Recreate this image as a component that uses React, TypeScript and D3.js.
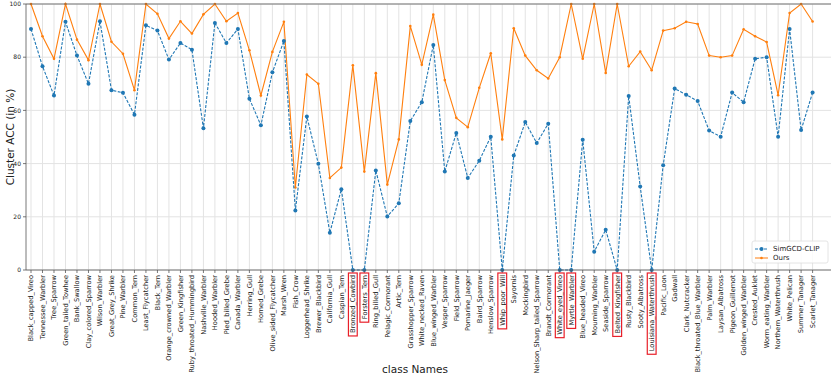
import React, { useEffect, useRef } from 'react';
import * as d3 from 'd3';

const classNames = [
  'Black_capped_Vireo', 'Tennessee_Warbler', 'Tree_Sparrow', 'Green_tailed_Towhee', 'Bank_Swallow',
  'Clay_colored_Sparrow', 'Wilson_Warbler', 'Great_Grey_Shrike', 'Pine_Warbler', 'Common_Tern',
  'Least_Flycatcher', 'Black_Tern', 'Orange_crowned_Warbler', 'Green_Kingfisher', 'Ruby_throated_Hummingbird',
  'Nashville_Warbler', 'Hooded_Warbler', 'Pied_billed_Grebe', 'Canada_Warbler', 'Herring_Gull',
  'Horned_Grebe', 'Olive_sided_Flycatcher', 'Marsh_Wren', 'Fish_Crow', 'Loggerhead_Shrike',
  'Brewer_Blackbird', 'California_Gull', 'Caspian_Tern', 'Bronzed_Cowbird', 'Forsters_Tern',
  'Ring_billed_Gull', 'Pelagic_Cormorant', 'Artic_Tern', 'Grasshopper_Sparrow', 'White_necked_Raven',
  'Blue_winged_Warbler', 'Vesper_Sparrow', 'Field_Sparrow', 'Pomarine_Jaeger', 'Baird_Sparrow',
  'Henslow_Sparrow', 'Whip_poor_Will', 'Sayornis', 'Mockingbird', 'Nelson_Sharp_tailed_Sparrow',
  'Brandt_Cormorant', 'White_eyed_Vireo', 'Myrtle_Warbler', 'Blue_headed_Vireo', 'Mourning_Warbler',
  'Seaside_Sparrow', 'Belted_Kingfisher', 'Rusty_Blackbird', 'Sooty_Albatross', 'Louisiana_Waterthrush',
  'Pacific_Loon', 'Gadwall', 'Clark_Nutcracker', 'Black_throated_Blue_Warbler', 'Palm_Warbler',
  'Laysan_Albatross', 'Pigeon_Guillemot', 'Golden_winged_Warbler', 'Crested_Auklet', 'Worm_eating_Warbler',
  'Northern_Waterthrush', 'White_Pelican', 'Summer_Tanager', 'Scarlet_Tanager',
];

const simgcdClip = [
  90.6, 76.6, 65.6, 93.3, 80.6, 70, 93.5, 67.6, 66.6, 58.4,
  92, 90, 79.1, 85.3, 82.8, 53.3, 92.9, 85.3, 90.6, 64.4,
  54.4, 74.3, 86.1, 22.4, 57.7, 39.9, 14, 30.4, 0, 0,
  37.4, 20.1, 25.1, 56, 63.1, 84.6, 37, 51.5, 34.6, 41.1,
  50.1, 0, 43, 55.6, 47.7, 55, 0, 0, 49, 6.9,
  15.1, 0, 65.4, 31.4, 0, 39.4, 68.2, 65.9, 63.5, 52.4,
  50.1, 66.7, 63.1, 79.4, 80, 50.1, 90.6, 52.6, 66.7,
];

const ours = [
  100, 87.9, 79.4, 100, 86.6, 78.9, 100, 85.8, 81.3, 67.6,
  100, 96.3, 87, 93.5, 88.9, 96.1, 100, 93.5, 96.6, 82.6,
  65.6, 82, 93.3, 31, 73.5, 70, 34.6, 38.5, 77, 37,
  74, 32.1, 49.1, 91.7, 77.2, 96, 71.4, 57.2, 53.7, 68.5,
  81.5, 49.1, 90.9, 80.6, 75.1, 72, 80, 100, 79.4, 100,
  74.1, 100, 76.6, 82.1, 75.1, 90, 90.9, 93.3, 92.5, 80.6,
  80, 80.6, 90.5, 87.9, 85.7, 65.7, 96.6, 100, 93.4,
];

const yTicks = [0, 20, 40, 60, 80, 100];
const highlighted = [
  'Bronzed_Cowbird', 'Forsters_Tern', 'Whip_poor_Will', 'White_eyed_Vireo',
  'Myrtle_Warbler', 'Belted_Kingfisher', 'Louisiana_Waterthrush',
];

const W = 831;
const H = 379;

const App = () => {
  const svgRef = useRef<SVGSVGElement>(null);

  useEffect(() => {
    const svg = d3.select(svgRef.current);
    svg.selectAll('*').remove();

    const left = 26;
    const top = 4;
    const bottom = 270;
    const right = 831;

    const x = d3.scalePoint<string>()
      .domain(classNames)
      .range([31, 812.6]);
    const y = d3.scaleLinear().domain([0, 100]).range([bottom, top]);

    const g = svg.append('g');
    const font = 'DejaVu Sans, sans-serif';

    // grid
    g.selectAll('.vgrid')
      .data(classNames)
      .enter()
      .append('line')
      .attr('x1', d => x(d)!)
      .attr('x2', d => x(d)!)
      .attr('y1', top)
      .attr('y2', bottom)
      .attr('stroke', '#e3e3e3')
      .attr('stroke-width', 1);

    g.selectAll('.hgrid')
      .data(yTicks)
      .enter()
      .append('line')
      .attr('x1', left)
      .attr('x2', right)
      .attr('y1', d => y(d))
      .attr('y2', d => y(d))
      .attr('stroke', '#e3e3e3')
      .attr('stroke-width', 1);

    // lines
    const line = d3.line<number>()
      .x((_, i) => x(classNames[i])!)
      .y(d => y(d));

    g.append('path')
      .datum(ours)
      .attr('fill', 'none')
      .attr('stroke', '#ff7f0e')
      .attr('stroke-width', 1.1)
      .attr('d', line);

    g.selectAll('.odot')
      .data(ours)
      .enter()
      .append('circle')
      .attr('cx', (_, i) => x(classNames[i])!)
      .attr('cy', d => y(d))
      .attr('r', 1.3)
      .attr('fill', '#ff7f0e');

    g.append('path')
      .datum(simgcdClip)
      .attr('fill', 'none')
      .attr('stroke', '#1f77b4')
      .attr('stroke-width', 1.1)
      .attr('stroke-dasharray', '3,1.5')
      .attr('d', line);

    g.selectAll('.bdot')
      .data(simgcdClip)
      .enter()
      .append('circle')
      .attr('cx', (_, i) => x(classNames[i])!)
      .attr('cy', d => y(d))
      .attr('r', 2)
      .attr('fill', '#1f77b4');

    // frame
    g.append('path')
      .attr('d', `M${right},${top}H${left}V${bottom}H${right}`)
      .attr('fill', 'none')
      .attr('stroke', '#555')
      .attr('stroke-width', 0.8);

    // y ticks
    yTicks.forEach(t => {
      g.append('line')
        .attr('x1', left - 3).attr('x2', left)
        .attr('y1', y(t)).attr('y2', y(t))
        .attr('stroke', '#555').attr('stroke-width', 0.8);
      g.append('text')
        .attr('x', left - 5)
        .attr('y', y(t))
        .attr('dy', '0.35em')
        .attr('text-anchor', 'end')
        .style('font-family', font)
        .style('font-size', '6px')
        .attr('fill', '#222')
        .text(t);
    });

    // x ticks + labels
    classNames.forEach(c => {
      const cx = x(c)!;
      g.append('line')
        .attr('x1', cx).attr('x2', cx)
        .attr('y1', bottom).attr('y2', bottom + 3)
        .attr('stroke', '#555').attr('stroke-width', 0.8);
      const lg = g.append('g')
        .attr('transform', `translate(${cx},${bottom + 5}) rotate(-90)`);
      const txt = lg.append('text')
        .attr('x', 0)
        .attr('y', 0)
        .attr('dy', '0.35em')
        .attr('text-anchor', 'end')
        .style('font-family', font)
        .style('font-size', '6.7px')
        .attr('fill', '#222')
        .text(c);
      if (highlighted.includes(c)) {
        const len = (txt.node() as SVGTextElement).getComputedTextLength();
        lg.append('rect')
          .attr('x', -len - 3)
          .attr('y', -4.4)
          .attr('width', len + 5)
          .attr('height', 8.8)
          .attr('fill', 'none')
          .attr('stroke', '#e8202a')
          .attr('stroke-width', 1.2);
      }
    });

    // axis titles
    g.append('text')
      .attr('transform', `translate(10,${(top + bottom) / 2}) rotate(-90)`)
      .attr('text-anchor', 'middle')
      .attr('dy', '0.35em')
      .style('font-family', font)
      .style('font-size', '10.5px')
      .attr('fill', '#222')
      .text('Cluster ACC (in %)');

    g.append('text')
      .attr('x', 415)
      .attr('y', 373)
      .attr('text-anchor', 'middle')
      .style('font-family', font)
      .style('font-size', '10.5px')
      .attr('fill', '#222')
      .text('class Names');

    // legend
    const legend = g.append('g').attr('transform', 'translate(752,241)');
    legend.append('rect')
      .attr('width', 76)
      .attr('height', 22)
      .attr('rx', 2)
      .attr('fill', 'white')
      .attr('fill-opacity', 0.85)
      .attr('stroke', '#ddd')
      .attr('stroke-width', 0.8);
    const items = [
      { label: 'SimGCD-CLIP', color: '#1f77b4', dash: '3,1.5', r: 2 },
      { label: 'Ours', color: '#ff7f0e', dash: null, r: 1.3 },
    ];
    items.forEach((it, i) => {
      const ly = 8 + i * 9;
      legend.append('line')
        .attr('x1', 3).attr('x2', 16)
        .attr('y1', ly).attr('y2', ly)
        .attr('stroke', it.color)
        .attr('stroke-width', 1)
        .attr('stroke-dasharray', it.dash);
      legend.append('circle')
        .attr('cx', 9.5).attr('cy', ly).attr('r', it.r)
        .attr('fill', it.color);
      legend.append('text')
        .attr('x', 21)
        .attr('y', ly)
        .attr('dy', '0.35em')
        .style('font-family', font)
        .style('font-size', '7px')
        .attr('fill', '#222')
        .text(it.label);
    });
  }, []);

  return (
    <svg
      ref={svgRef}
      width={W}
      height={H}
      style={{ position: 'absolute', left: 0, top: 0, background: 'white' }}
    />
  );
};

export default App;
